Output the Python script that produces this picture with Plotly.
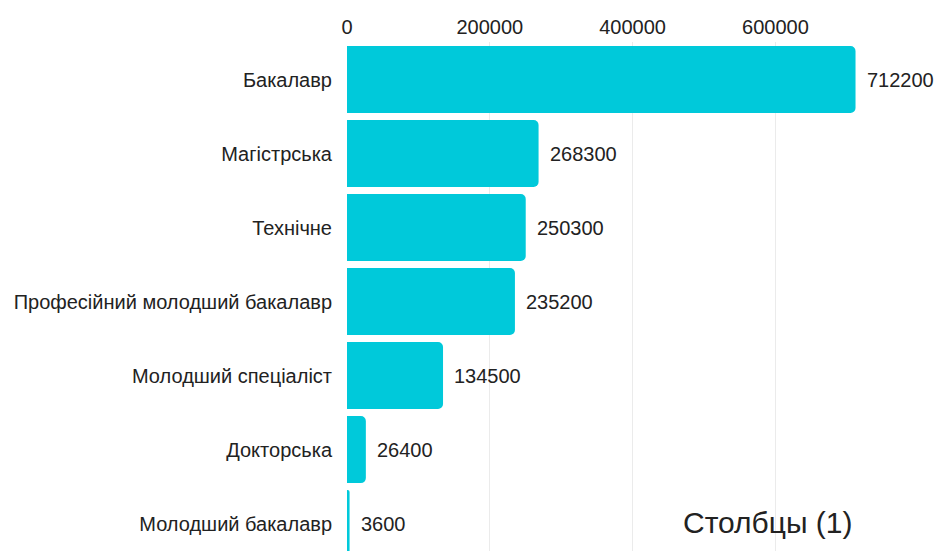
import plotly.graph_objects as go

categories = ["Бакалавр", "Магістрська", "Технічне", "Професійний молодший бакалавр",
              "Молодший спеціаліст", "Докторська", "Молодший бакалавр"]
values = [712200, 268300, 250300, 235200, 134500, 26400, 3600]
x_ticks = [0, 200000, 400000, 600000]

fig = go.Figure(go.Bar(
    x=values, y=categories, orientation="h",
    marker=dict(color="#00C9DA", cornerradius=5, line=dict(width=0)),
    cliponaxis=False,
))

annotations = [dict(x=v, y=c, xref="x", yref="y", text=str(v), showarrow=False,
                    xanchor="left", xshift=9, font=dict(size=20, color="#222222"))
               for v, c in zip(values, categories)]
annotations.append(dict(text="Столбцы (1)", x=589000, y=5.98, xref="x", yref="y",
                        showarrow=False, font=dict(size=30, color="#222222")))

fig.update_layout(
    width=935, height=551,
    margin=dict(l=347, r=35, t=42, b=0),
    paper_bgcolor="white", plot_bgcolor="white",
    font=dict(family="Liberation Sans, Arial, sans-serif", size=20, color="#222222"),
    bargap=0.095,
    showlegend=False,
    xaxis=dict(side="top", range=[0, 774500], tickvals=x_ticks,
               ticktext=[str(t) for t in x_ticks],
               showgrid=True, gridcolor="#ebebeb", gridwidth=1,
               zeroline=False, showline=False, ticks="", ticklabelstandoff=3),
    yaxis=dict(categoryorder="array", categoryarray=categories,
               range=[6.37, -0.507], showgrid=False, zeroline=False,
               ticks="", ticklabelstandoff=14),
    annotations=annotations,
)

fig.write_html("out.html")
